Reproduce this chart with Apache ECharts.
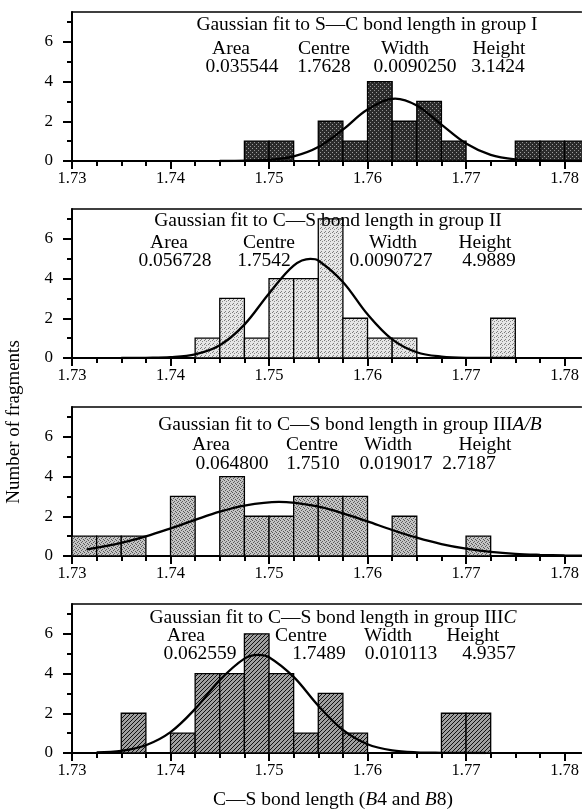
<!DOCTYPE html>
<html><head><meta charset="utf-8">
<script src="https://cdn.jsdelivr.net/npm/echarts@6/dist/echarts.min.js"></script>
<style>html,body{margin:0;padding:0;background:#fff}#c{width:582px;height:811px}</style>
</head><body><div id="c"></div>
<script>
// ---------- data ----------
const binWidth = 0.0025;
const g1Bins = [1.7475, 1.75, 1.755, 1.7575, 1.76, 1.7625, 1.765, 1.7675, 1.775, 1.7775, 1.78];
const g1Counts = [1, 1, 2, 1, 4, 2, 3, 1, 1, 1, 1];
const g2Bins = [1.7425, 1.745, 1.7475, 1.75, 1.7525, 1.755, 1.7575, 1.76, 1.7625, 1.7725];
const g2Counts = [1, 3, 1, 4, 4, 7, 2, 1, 1, 2];
const g3Bins = [1.73, 1.7325, 1.735, 1.74, 1.745, 1.7475, 1.75, 1.7525, 1.755, 1.7575, 1.7625, 1.77];
const g3Counts = [1, 1, 1, 3, 4, 2, 2, 3, 3, 3, 2, 1];
const g4Bins = [1.735, 1.74, 1.7425, 1.745, 1.7475, 1.75, 1.7525, 1.755, 1.7575, 1.7675, 1.77];
const g4Counts = [2, 1, 4, 4, 6, 4, 1, 3, 1, 2, 2];

// fitted curves
const g1CurveX = [1.745, 1.75, 1.7525, 1.755, 1.7575, 1.76, 1.7628, 1.765, 1.7675, 1.77, 1.7725, 1.775, 1.7775, 1.782];
const g1CurveY = [0.00, 0.06, 0.23, 0.70, 1.58, 2.59, 3.14, 2.79, 1.83, 0.88, 0.31, 0.08, 0.02, 0.00];
const g2CurveX = [1.735, 1.7375, 1.74, 1.7425, 1.745, 1.7475, 1.75, 1.7525, 1.7542, 1.755, 1.7575, 1.76, 1.7625, 1.765, 1.7675, 1.77, 1.775];
const g2CurveY = [0.00, 0.01, 0.04, 0.18, 0.64, 1.68, 3.25, 4.65, 4.99, 4.91, 3.83, 2.20, 0.94, 0.29, 0.07, 0.01, 0.00];
const g3CurveX = [1.7315, 1.735, 1.7375, 1.74, 1.7425, 1.745, 1.7475, 1.751, 1.755, 1.7575, 1.76, 1.7625, 1.765, 1.7675, 1.77, 1.7725, 1.775, 1.7775, 1.78, 1.7825];
const g3CurveY = [0.33, 0.66, 0.99, 1.39, 1.82, 2.23, 2.54, 2.72, 2.49, 2.15, 1.74, 1.31, 0.92, 0.60, 0.37, 0.21, 0.11, 0.06, 0.03, 0.01];
const g4CurveX = [1.7325, 1.735, 1.7375, 1.74, 1.7425, 1.745, 1.7475, 1.7489, 1.75, 1.7525, 1.755, 1.7575, 1.76, 1.7625, 1.765, 1.7675, 1.772];
const g4CurveY = [0.03, 0.11, 0.39, 1.05, 2.22, 3.67, 4.75, 4.94, 4.82, 3.83, 2.38, 1.16, 0.44, 0.13, 0.03, 0.01, 0.00];

const xMajorTicks = [1.73, 1.74, 1.75, 1.76, 1.77, 1.78];
const xMinorTicks = [1.7325, 1.735, 1.7375, 1.7425, 1.745, 1.7475, 1.7525, 1.755, 1.7575, 1.7625, 1.765, 1.7675, 1.7725, 1.775, 1.7775];
const yMajorTicks = [0, 2, 4, 6];
const yMinorTicks = [1, 3, 5, 7];

const panelTitles = [
  'Gaussian fit to S\u2014C bond length in group I',
  'Gaussian fit to C\u2014S bond length in group II',
  'Gaussian fit to C\u2014S bond length in group III{i|A/B}',
  'Gaussian fit to C\u2014S bond length in group III{i|C}'
];
const fitHeaders = ['Area', 'Centre', 'Width', 'Height'];
const fitValues = [
  ['0.035544', '1.7628', '0.0090250', '3.1424'],
  ['0.056728', '1.7542', '0.0090727', '4.9889'],
  ['0.064800', '1.7510', '0.019017', '2.7187'],
  ['0.062559', '1.7489', '0.010113', '4.9357']
];
const yAxisTitle = 'Number of fragments';
const xAxisTitle = 'C\u2014S bond length ({i|B}4 and {i|B}8)';

// ---------- layout / style ----------
const FONT = 'Liberation Serif';
const ANN = 19.5;
const gridTops = [12, 209, 407, 604];
const gridH = 149;
const titleLayout = [
  {tx: 367, ty: 25, hy: 49, vy: 67, hx: [231, 324, 405, 499], vx: [242, 324, 415, 498]},
  {tx: 328, ty: 221, hy: 243, vy: 261, hx: [169, 269, 393, 485], vx: [175, 264, 391, 489]},
  {tx: 350, ty: 425, hy: 445, vy: 464, hx: [211, 312, 388, 485], vx: [232, 313, 396, 469]},
  {tx: 333, ty: 618, hy: 636, vy: 654, hx: [186, 301, 388, 473], vx: [200, 319, 401, 489]}
];

function makePattern(kind) {
  const c = document.createElement('canvas');
  c.width = 4; c.height = 4;
  const ctx = c.getContext('2d');
  const px = (x, y, col) => { ctx.fillStyle = col; ctx.fillRect(x, y, 1, 1); };
  if (kind === 0) {
    ctx.fillStyle = '#2c2c2c'; ctx.fillRect(0, 0, 4, 4);
    px(0, 0, '#a0a0a0'); px(2, 2, '#909090');
  } else if (kind === 1) {
    ctx.fillStyle = '#e6e6e6'; ctx.fillRect(0, 0, 4, 4);
    px(0, 0, '#7a7a7a'); px(2, 1, '#8a8a8a'); px(1, 3, '#808080');
  } else if (kind === 2) {
    ctx.fillStyle = '#c4c4c4'; ctx.fillRect(0, 0, 4, 4);
    px(0, 0, '#555'); px(2, 1, '#606060'); px(1, 2, '#5a5a5a'); px(3, 3, '#555');
  } else {
    ctx.fillStyle = '#a0a0a0'; ctx.fillRect(0, 0, 4, 4);
    px(0, 3, '#111'); px(1, 2, '#111'); px(2, 1, '#111'); px(3, 0, '#111');
  }
  return c;
}

const bins = [g1Bins, g2Bins, g3Bins, g4Bins];
const counts = [g1Counts, g2Counts, g3Counts, g4Counts];
const curvesX = [g1CurveX, g2CurveX, g3CurveX, g4CurveX];
const curvesY = [g1CurveY, g2CurveY, g3CurveY, g4CurveY];

const X_MIN = 1.73, X_MAX = 1.7817;
const grids = [], xAxes = [], yAxes = [], series = [], graphics = [];
for (let p = 0; p < 4; p++) {
  grids.push({left: 72, top: gridTops[p], right: 0, height: gridH, show: false});
  xAxes.push({type: 'value', gridIndex: p, min: X_MIN, max: X_MAX, position: 'bottom',
    axisLine: {show: true, onZero: false, lineStyle: {color: '#000', width: 2}},
    axisTick: {show: true, customValues: xMajorTicks, length: 8, lineStyle: {color: '#000', width: 2}},
    axisLabel: {show: true, customValues: xMajorTicks, formatter: v => v.toFixed(2), margin: 9,
      color: '#000', fontFamily: FONT, fontSize: 16.5},
    splitLine: {show: false}});
  xAxes.push({type: 'value', gridIndex: p, min: X_MIN, max: X_MAX, position: 'bottom',
    axisLine: {show: false},
    axisTick: {show: true, customValues: xMinorTicks, length: 5, lineStyle: {color: '#000', width: 2}},
    axisLabel: {show: false}, splitLine: {show: false}});
  xAxes.push({type: 'value', gridIndex: p, min: X_MIN, max: X_MAX, position: 'top',
    axisLine: {show: true, onZero: false, lineStyle: {color: '#000', width: 1.6}},
    axisTick: {show: false}, axisLabel: {show: false}, splitLine: {show: false}});
  yAxes.push({type: 'value', gridIndex: p, min: 0, max: 7.5, position: 'left',
    axisLine: {show: true, onZero: false, lineStyle: {color: '#000', width: 2}},
    axisTick: {show: true, customValues: yMajorTicks, length: 9, lineStyle: {color: '#000', width: 2}},
    axisLabel: {show: true, customValues: yMajorTicks, margin: 19, color: '#000', fontFamily: FONT, fontSize: 17},
    splitLine: {show: false}});
  yAxes.push({type: 'value', gridIndex: p, min: 0, max: 7.5, position: 'left', offset: 0,
    axisLine: {show: false},
    axisTick: {show: true, customValues: yMinorTicks, length: 5, lineStyle: {color: '#000', width: 2}},
    axisLabel: {show: false}, splitLine: {show: false}});

  const pat = {image: makePattern(p), repeat: 'repeat'};
  series.push({
    type: 'custom', xAxisIndex: 3 * p, yAxisIndex: 2 * p, z: 2, clip: true,
    data: bins[p].map((b, i) => [b, b + binWidth, counts[p][i]]),
    encode: {x: [0, 1], y: 2},
    renderItem: (params, api) => {
      const a = api.coord([api.value(0), api.value(2)]);
      const b = api.coord([api.value(1), 0]);
      return {type: 'rect', shape: {x: a[0], y: a[1], width: b[0] - a[0], height: b[1] - a[1]},
        style: {fill: pat, stroke: '#000', lineWidth: 1.3}};
    }
  });
  series.push({
    type: 'line', xAxisIndex: 3 * p, yAxisIndex: 2 * p, z: 5,
    data: curvesX[p].map((x, i) => [x, curvesY[p][i]]),
    smooth: 0.35, showSymbol: false, symbol: 'none',
    lineStyle: {color: '#000', width: 2.3}, animation: false
  });

  const L = titleLayout[p];
  const rich = {i: {fontStyle: 'italic', fontFamily: FONT, fontSize: ANN, fill: '#000'}};
  graphics.push({type: 'text', x: L.tx, y: L.ty, z: 10,
    style: {text: panelTitles[p], fontFamily: FONT, fontSize: ANN, fill: '#000',
      align: 'center', verticalAlign: 'middle', rich: rich}});
  for (let k = 0; k < 4; k++) {
    graphics.push({type: 'text', x: L.hx[k], y: L.hy, z: 10,
      style: {text: fitHeaders[k], fontFamily: FONT, fontSize: ANN, fill: '#000', align: 'center', verticalAlign: 'middle'}});
    graphics.push({type: 'text', x: L.vx[k], y: L.vy, z: 10,
      style: {text: fitValues[p][k], fontFamily: FONT, fontSize: ANN, fill: '#000', align: 'center', verticalAlign: 'middle'}});
  }
}
graphics.push({type: 'text', x: 14, y: 422, rotation: Math.PI / 2, z: 10,
  style: {text: yAxisTitle, fontFamily: FONT, fontSize: 19, fill: '#000', align: 'center', verticalAlign: 'middle'}});
graphics.push({type: 'text', x: 333, y: 800, z: 10,
  style: {text: xAxisTitle, fontFamily: FONT, fontSize: 19.5, fill: '#000', align: 'center', verticalAlign: 'middle',
    rich: {i: {fontStyle: 'italic', fontFamily: FONT, fontSize: 19.5, fill: '#000'}}}});

const chart = echarts.init(document.getElementById('c'), null, {renderer: 'canvas'});
chart.setOption({
  backgroundColor: '#fff',
  animation: false,
  grid: grids, xAxis: xAxes, yAxis: yAxes, series: series, graphic: graphics
});
</script></body></html>
